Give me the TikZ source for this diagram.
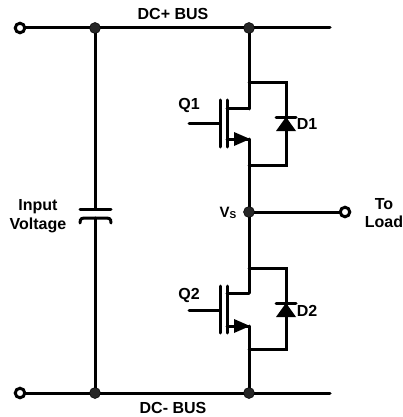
\documentclass[tikz,border=0pt]{standalone}
\usepackage{fontspec}
\setmainfont{Liberation Sans}
\tikzset{
    wire/.style={line width=3pt, line cap=round, line join=miter},
    dot/.style={circle, fill=black!85, draw=black, line width=0.5pt, minimum size=11pt, inner sep=0pt},
    port/.style={circle, fill=white, draw=black, line width=3pt, minimum size=9.5pt, inner sep=0pt},
    lbl/.style={font=\fontsize{16}{18.5}\selectfont\bfseries, inner sep=0pt, align=center},
}
\begin{document}
\begin{tikzpicture}[x=1pt, y=-1pt]
    \useasboundingbox (0, 0) rectangle (402, 417);

    \coordinate (top_end) at (330, 28);
    \coordinate (bot_end) at (330, 393);
    \coordinate (in_top_c) at (20, 28);
    \coordinate (in_bot_c) at (20, 393);

    \draw[wire] (in_top_c) -- (top_end);
    \draw[wire] (in_bot_c) -- (bot_end);
    \draw[wire] (249, 212) -- (345, 212);

    % capacitor
    \coordinate (cap_a) at (95, 209);
    \coordinate (cap_b) at (95, 218);
    \draw[wire] (95, 28) -- (cap_a);
    \draw[wire] (cap_b) -- (95, 393);
    \draw[wire] ([xshift=-15pt]cap_a) -- ([xshift=16pt]cap_a);
    \draw[wire] ([xshift=-15pt, yshift=-5pt]cap_b) .. controls ([xshift=-15pt]cap_b) and ([xshift=-13pt]cap_b) .. ([xshift=-8pt]cap_b)
        -- ([xshift=9pt]cap_b) .. controls ([xshift=14pt]cap_b) and ([xshift=16pt]cap_b) .. ([xshift=16pt, yshift=-5pt]cap_b);

    % upper switch
    \coordinate (q1_g) at (189, 123);
    \coordinate (q1_gb) at (220, 123);
    \coordinate (q1_d) at (249, 109);
    \coordinate (q1_s) at (249, 139);
    \coordinate (q1_t) at (249, 83);
    \coordinate (q1_b) at (249, 165);
    \coordinate (d1_t) at (286, 83);
    \coordinate (d1_b) at (286, 165);
    \draw[wire] (q1_g) -- (q1_gb);
    \draw[wire] (220, 100) -- (220, 147);
    \draw[wire] (227, 100) -- (227, 147);
    \draw[wire] (227, 109) -- (q1_d);
    \draw[wire] (227, 139) -- (q1_s);
    \fill (234, 132) -- (250, 139) -- (234, 146) -- cycle;
    \draw[wire] (249, 28) -- (q1_d);
    \draw[wire] (q1_s) -- (249, 212);
    \draw[wire] (q1_t) -- (d1_t) -- (d1_b) -- (q1_b);
    \fill (286, 117) -- (296, 131) -- (276, 131) -- cycle;
    \draw[wire] (276, 117) -- (296, 117);

    % lower switch
    \coordinate (q2_g) at (189, 310);
    \coordinate (q2_gb) at (220, 310);
    \coordinate (q2_d) at (249, 293);
    \coordinate (q2_s) at (249, 326);
    \coordinate (q2_t) at (249, 268);
    \coordinate (q2_b) at (249, 349);
    \coordinate (d2_t) at (286, 268);
    \coordinate (d2_b) at (286, 349);
    \draw[wire] (q2_g) -- (q2_gb);
    \draw[wire] (220, 286) -- (220, 333);
    \draw[wire] (227, 286) -- (227, 333);
    \draw[wire] (227, 293) -- (q2_d);
    \draw[wire] (227, 326) -- (q2_s);
    \fill (234, 319) -- (250, 326) -- (234, 333) -- cycle;
    \draw[wire] (249, 212) -- (q2_d);
    \draw[wire] (q2_s) -- (249, 393);
    \draw[wire] (q2_t) -- (d2_t) -- (d2_b) -- (q2_b);
    \fill (286, 303) -- (296, 317) -- (276, 317) -- cycle;
    \draw[wire] (276, 303) -- (296, 303);

    \node[port] (in_top) at (in_top_c) {};
    \node[port] (in_bot) at (in_bot_c) {};
    \node[port] (load) at (345, 212) {};
    \node[dot] (top_c) at (95, 28) {};
    \node[dot] (top_s) at (249, 28) {};
    \node[dot] (bot_c) at (95, 393) {};
    \node[dot] (bot_s) at (249, 393) {};
    \node[dot] (mid) at (249, 212) {};

    \node[lbl] (bus_p) at (173, 14) {DC+ BUS};
    \node[lbl] (bus_n) at (173, 408) {DC- BUS};
    \node[lbl] (vin) at (38, 216) {Input\\Voltage};
    \node[lbl] (to_load) at (384, 213) {To\\Load};
    \node[lbl] (q1) at (189, 105) {Q1};
    \node[lbl] (q2) at (189, 295) {Q2};
    \node[lbl] (d1) at (307, 124) {D1};
    \node[lbl] (d2) at (307, 311) {D2};
    \node[lbl, font=\fontsize{15}{16}\selectfont\bfseries] (vs) at (228, 213) {V\raisebox{-1.5pt}{\fontsize{10}{10}\selectfont S}};
\end{tikzpicture}
\end{document}
